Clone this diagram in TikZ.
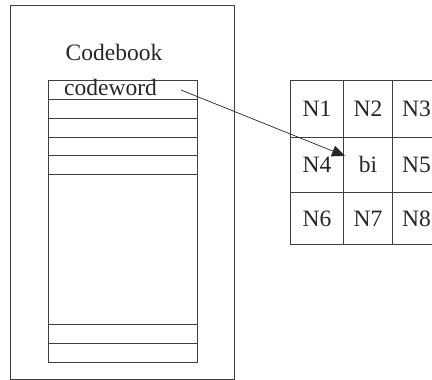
\documentclass[tikz,border=0pt]{standalone}
\usepackage{fontspec}
\setmainfont{Liberation Serif}
\usetikzlibrary{arrows.meta}
\begin{document}
\begin{tikzpicture}[x=1pt,y=-1pt,
  frame/.style={draw=black!75, line width=0.9pt, inner sep=0pt},
  lbl/.style={font=\fontsize{23.5}{28}\selectfont, text=black!85, inner sep=0pt},
  cell/.style={frame, lbl, minimum width=#1, anchor=north west},
  link/.style={draw=black!85, line width=0.7pt, -{Triangle[length=13pt,width=11pt]}}]
\useasboundingbox (0,0) rectangle (432,380);
\clip (0,0) rectangle (432,380);

% codebook frame and title
\node[frame, anchor=north west, minimum width=224pt, minimum height=374pt] (book) at (10,5) {};
\node[lbl] (title) at (114,52) {Codebook};

% codeword table
\node[frame, anchor=north west, minimum width=149pt, minimum height=282pt] (table) at (48,80) {};
\node[lbl, anchor=base west] (cw) at (64,95) {codeword};
\foreach \y in {99,118,137,155,174,324,343}
  \draw[frame] (table.west |- 0,\y) -- (table.east |- 0,\y);

% 3x3 neighbourhood grid
\foreach \name/\txt/\x/\w/\y/\h in {
    n1/N1/290/53/80/57, n2/N2/343/49/80/57, n3/N3/392/48/80/57,
    n4/N4/290/53/137/55, bi/bi/343/49/137/55, n5/N5/392/48/137/55,
    n6/N6/290/53/192/52, n7/N7/343/49/192/52, n8/N8/392/48/192/52}
  \node[cell=\w pt, minimum height=\h pt] (\name) at (\x,\y) {\txt};

% link from the codeword to the centre cell
\coordinate (from) at (181,90);
\coordinate (to) at (345,156);
\draw[link] (from) -- (to);
\end{tikzpicture}
\end{document}
